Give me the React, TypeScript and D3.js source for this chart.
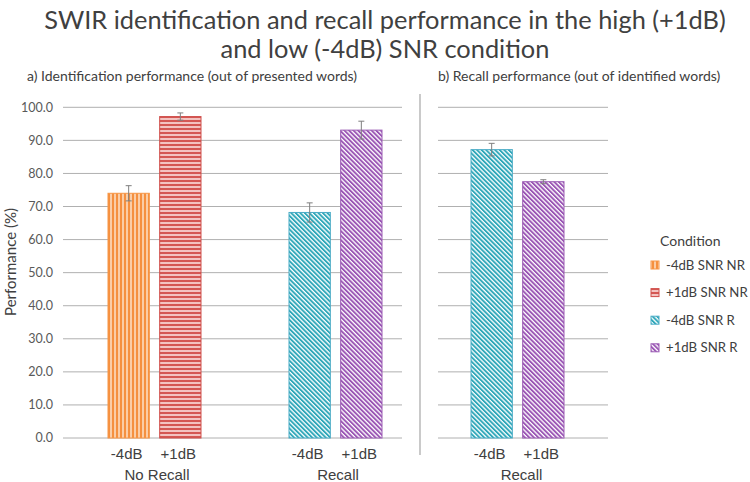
import React from "react";
import * as d3 from "d3";

const leftCategories = ["No Recall", "Recall"];
const snrLabels = ["-4dB", "+1dB"];
const idMeansNoRecall = [74.0, 97.2];
const idErrNoRecall = [2.3, 1.1];
const idMeansRecall = [68.2, 93.1];
const idErrRecall = [2.9, 2.7];
const recallCategory = ["Recall"];
const recallMeans = [87.2, 77.5];
const recallErr = [1.9, 0.6];
const legendLabels = ["-4dB SNR NR", "+1dB SNR NR", "-4dB SNR R", "+1dB SNR R"];
const yTicks = [0, 10, 20, 30, 40, 50, 60, 70, 80, 90, 100];

const W = 750, H = 482;
const CAL = "Lato, 'Open Sans', sans-serif";
const ARI = "'Liberation Sans', Arial, sans-serif";

const patIds = ["patOrange", "patRed", "patCyan", "patPurple"];
const borders = ["#F79646", "#D0504D", "#4BACC6", "#9B5CB4"];

export default function App() {
  const y = d3.scaleLinear().domain([0, 100]).range([438, 107.3]);
  const leftBand = d3.scaleBand().domain(leftCategories).range([64, 426]);
  const rightBand = d3.scaleBand().domain(recallCategory).range([427, 608]);
  const inner = d3.scaleBand().domain(snrLabels).range([44, 137]).paddingInner(0.2).paddingOuter(0);

  type Bar = { x: number; w: number; v: number; e: number; pat: number; lab: string };
  const bars: Bar[] = [];
  const groups: { cx: number; label: string }[] = [];
  const leftData = [
    { means: idMeansNoRecall, errs: idErrNoRecall, pats: [0, 1] },
    { means: idMeansRecall, errs: idErrRecall, pats: [2, 3] },
  ];
  leftCategories.forEach((c, i) => {
    const x0 = leftBand(c)!;
    groups.push({ cx: x0 + leftBand.bandwidth() / 2 + 2.5, label: c });
    snrLabels.forEach((s, j) => {
      bars.push({ x: x0 + inner(s)!, w: inner.bandwidth(), v: leftData[i].means[j], e: leftData[i].errs[j], pat: leftData[i].pats[j], lab: s });
    });
  });
  const rx0 = rightBand(recallCategory[0])!;
  groups.push({ cx: rx0 + rightBand.bandwidth() / 2 + 4, label: recallCategory[0] });
  snrLabels.forEach((s, j) => {
    bars.push({ x: rx0 + inner(s)!, w: inner.bandwidth(), v: recallMeans[j], e: recallErr[j], pat: j + 2, lab: s });
  });

  const grid = "#B0B0B0";
  return (
    <svg width={W} height={H} style={{ position: "absolute", left: 0, top: 0, background: "#fff" }}>
      <defs>
        <pattern id="patOrange" width={4} height={4} patternUnits="userSpaceOnUse">
          <rect width={4} height={4} fill="#FBCDA6" />
          <rect width={2} height={4} fill="#F5903F" />
        </pattern>
        <pattern id="patRed" width={4} height={4} patternUnits="userSpaceOnUse">
          <rect width={4} height={4} fill="#F3C3C1" />
          <rect width={4} height={2} fill="#D45753" />
        </pattern>
        <pattern id="patCyan" width={3.2} height={3.2} patternUnits="userSpaceOnUse" patternTransform="rotate(-45)">
          <rect width={3.2} height={3.2} fill="#FFFFFF" />
          <rect width={1.9} height={3.2} fill="#2FA7B9" />
        </pattern>
        <pattern id="patPurple" width={3.2} height={3.2} patternUnits="userSpaceOnUse" patternTransform="rotate(-45)">
          <rect width={3.2} height={3.2} fill="#FFFFFF" />
          <rect width={1.9} height={3.2} fill="#9A55B4" />
        </pattern>
      </defs>

      <text x={385} y={29} textAnchor="middle" fontFamily={CAL} fontSize={25.4} fill="#404040">
        SWIR identification and recall performance in the high (+1dB)
      </text>
      <text x={385} y={58} textAnchor="middle" fontFamily={CAL} fontSize={25.4} fill="#404040">
        and low (-4dB) SNR condition
      </text>

      <text x={27} y={81} fontFamily={CAL} fontSize={14} fill="#404040">a) Identification performance (out of presented words)</text>
      <text x={438} y={81} fontFamily={CAL} fontSize={14} fill="#404040">b) Recall performance (out of identified words)</text>

      {yTicks.map((t) => (
        <g key={t}>
          <line x1={63} x2={402} y1={y(t)} y2={y(t)} stroke={grid} strokeWidth={1} />
          <line x1={438} x2={608} y1={y(t)} y2={y(t)} stroke={grid} strokeWidth={1} />
          <text x={53} y={y(t)} dy="0.35em" textAnchor="end" fontFamily={CAL} fontSize={12.5} fill="#595959">
            {t.toFixed(1)}
          </text>
        </g>
      ))}

      <line x1={420} x2={420} y1={94} y2={455} stroke="#A6A6A6" strokeWidth={1.2} />

      <text transform={`translate(11,${262}) rotate(-90)`} textAnchor="middle" dy="0.35em" fontFamily={CAL} fontSize={15} fill="#404040">
        Performance (%)
      </text>

      {bars.map((b, i) => (
        <g key={i}>
          <rect x={b.x} y={y(b.v)} width={b.w} height={y(0) - y(b.v)} fill={`url(#${patIds[b.pat]})`} stroke={borders[b.pat]} strokeWidth={1} />
          <line x1={b.x + b.w / 2} x2={b.x + b.w / 2} y1={y(b.v + b.e)} y2={y(b.v - b.e)} stroke="#7F7F7F" strokeWidth={1} />
          <line x1={b.x + b.w / 2 - 3} x2={b.x + b.w / 2 + 3} y1={y(b.v + b.e)} y2={y(b.v + b.e)} stroke="#7F7F7F" strokeWidth={1} />
          <line x1={b.x + b.w / 2 - 3} x2={b.x + b.w / 2 + 3} y1={y(b.v - b.e)} y2={y(b.v - b.e)} stroke="#7F7F7F" strokeWidth={1} />
          <text x={b.x + b.w / 2 - 2} y={454} dy="0.35em" textAnchor="middle" fontFamily={ARI} fontSize={15} fill="#404040">{b.lab}</text>
        </g>
      ))}
      {groups.map((g, i) => (
        <text key={i} x={g.cx} y={475} dy="0.35em" textAnchor="middle" fontFamily={ARI} fontSize={15} fill="#404040">{g.label}</text>
      ))}

      <text x={660} y={241} dy="0.35em" fontFamily={CAL} fontSize={14} fill="#404040">Condition</text>
      {legendLabels.map((l, i) => (
        <g key={l}>
          <rect x={651} y={265 + i * 27.6 - 4} width={8} height={8} fill={`url(#${patIds[i]})`} stroke={borders[i]} strokeWidth={1} />
          <text x={666} y={265 + i * 27.6} dy="0.35em" fontFamily={CAL} fontSize={13.2} fill="#404040">{l}</text>
        </g>
      ))}
    </svg>
  );
}
